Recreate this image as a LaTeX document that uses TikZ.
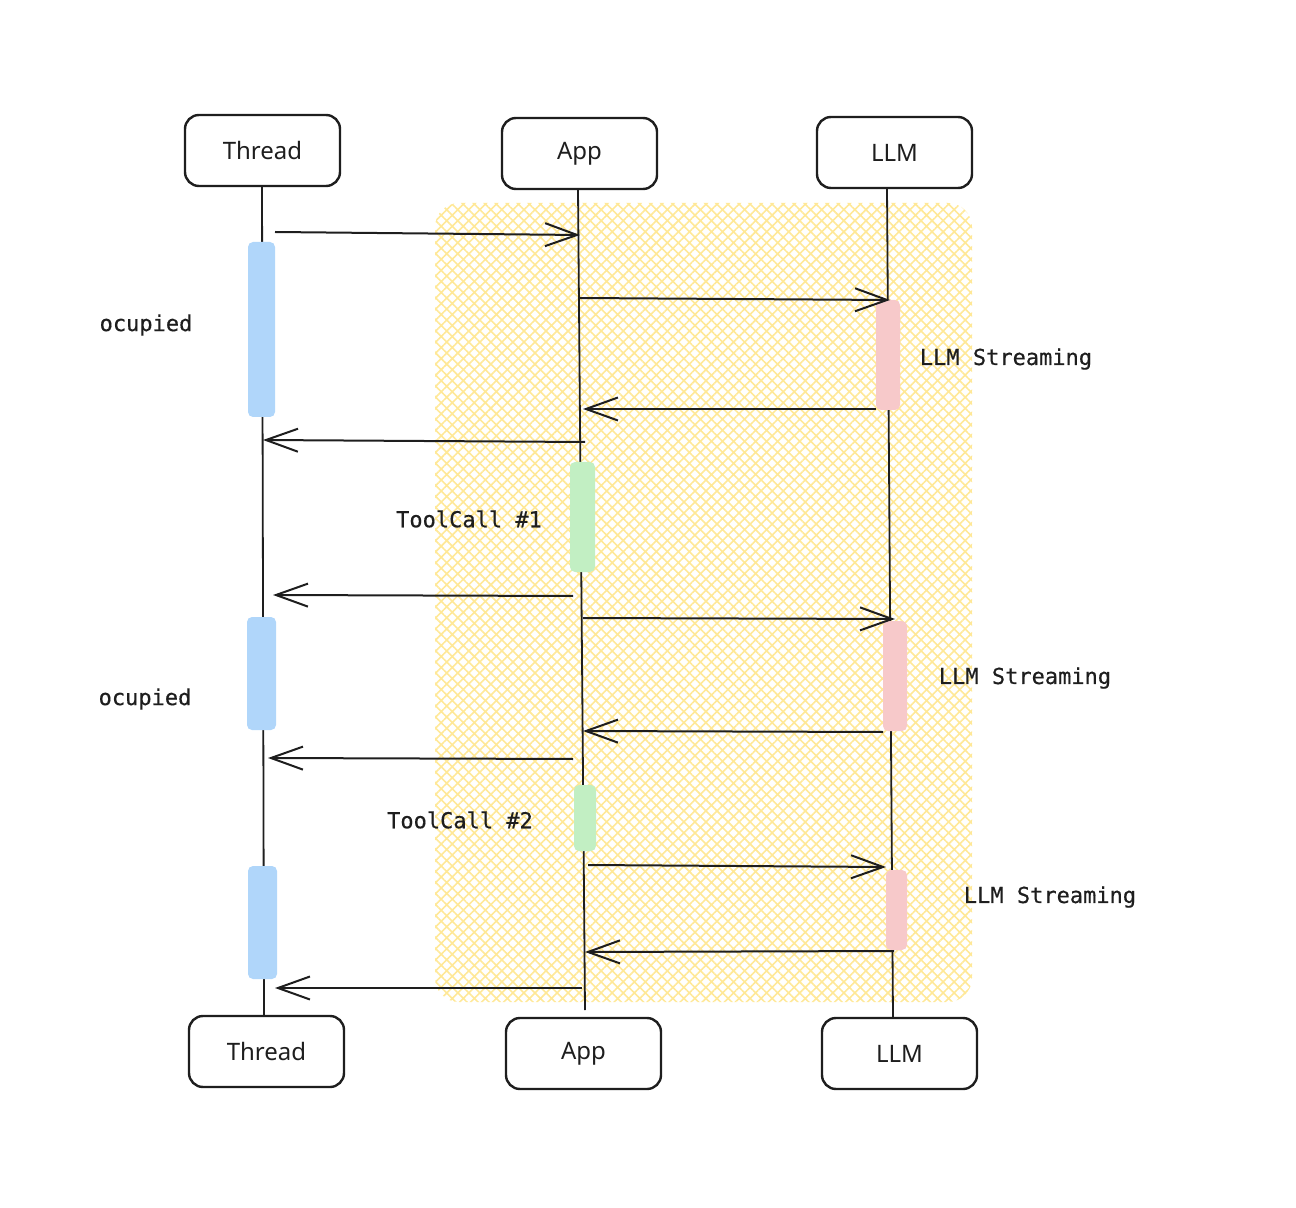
\documentclass[tikz,border=0pt]{standalone}
\usepackage{fontspec}
\newfontfamily\lblfont[FakeBold=0.4]{DejaVu Sans Mono}
\newfontfamily\boxfont{Noto Sans}
\usetikzlibrary{arrows.meta,patterns.meta}
\definecolor{hatchyellow}{HTML}{FFE897}
\definecolor{barblue}{HTML}{B0D6FA}
\definecolor{barpink}{HTML}{F7C9CA}
\definecolor{bargreen}{HTML}{C2EFC3}
\definecolor{ink}{HTML}{1E1E1E}
\tikzset{
  actor/.style={draw=ink, line width=1.2pt, rounded corners=7pt, minimum width=77.5pt, minimum height=35.5pt, inner sep=0pt, fill=white, text=ink, font=\boxfont\fontsize{12}{14}\selectfont},
  lifeline/.style={draw=ink, line width=0.9pt},
  bar/.style={rounded corners=2.5pt, inner sep=0pt, draw=none},
  msg/.style={draw=ink, line width=1pt, -{Straight Barb[length=16pt,width=11.5pt,line width=1pt]}},
  lbl/.style={text=ink, font=\lblfont\fontsize{11}{13}\selectfont, inner sep=0pt}
}
\begin{document}
\begin{tikzpicture}[x=0.5pt,y=-0.5pt]
\useasboundingbox (0,0) rectangle (1296,1208);
% hatched area
\fill[pattern={Hatch[angle=45,distance=3.9pt,line width=0.8pt]}, pattern color=hatchyellow, rounded corners=12pt] (435,203) rectangle (972,1002);

% actors
\node[actor] (tT) at (262.5,150.5) {Thread};
\node[actor] (aT) at (579.5,153.5) {App};
\node[actor] (lT) at (894.5,152.5) {LLM};
\node[actor] (tB) at (266.5,1051.5) {Thread};
\node[actor] (aB) at (583.5,1053.5) {App};
\node[actor] (lB) at (899.5,1053.5) {LLM};

% lifelines
\coordinate (tTs) at (262,186);
\coordinate (tBn) at (264,1016);
\coordinate (aTs) at (578,189);
\coordinate (aBn) at (585,1010);
\coordinate (lTs) at (887,188);
\coordinate (lBn) at (893,1018);
\draw[lifeline] (tTs) -- (tBn);
\draw[lifeline] (aTs) -- (aBn);
\draw[lifeline] (lTs) -- (lBn);

% activation bars
\node[bar, fill=barblue, minimum width=13.5pt, minimum height=87.5pt] (tb1) at (261.5,329.5) {};
\node[bar, fill=barblue, minimum width=14.5pt, minimum height=56.5pt] (tb2) at (261.5,673.5) {};
\node[bar, fill=barblue, minimum width=14.5pt, minimum height=56.5pt] (tb3) at (262.5,922.5) {};
\node[bar, fill=barpink, minimum width=12pt, minimum height=55pt] (lb1) at (888,355) {};
\node[bar, fill=barpink, minimum width=12pt, minimum height=55pt] (lb2) at (895,676) {};
\node[bar, fill=barpink, minimum width=10.5pt, minimum height=40pt] (lb3) at (896.5,910) {};
\node[bar, fill=bargreen, minimum width=12.5pt, minimum height=55pt] (ab1) at (582.5,517) {};
\node[bar, fill=bargreen, minimum width=11pt, minimum height=33pt] (ab2) at (585,818) {};

% message end points
\coordinate (m1s) at (275,232);  \coordinate (m1e) at (580,235);
\coordinate (m2s) at (580,298);  \coordinate (m2e) at (890,300);
\coordinate (m3s) at (876,409);  \coordinate (m3e) at (583,409);
\coordinate (m4s) at (585,442);  \coordinate (m4e) at (263,440);
\coordinate (m5s) at (573,596);  \coordinate (m5e) at (273,595);
\coordinate (m6s) at (583,618);  \coordinate (m6e) at (895,619);
\coordinate (m7s) at (883,732);  \coordinate (m7e) at (583,731);
\coordinate (m8s) at (573,759);  \coordinate (m8e) at (268,758);
\coordinate (m9s) at (588,865);  \coordinate (m9e) at (886,867);
\coordinate (m10s) at (894,951); \coordinate (m10e) at (585,952);
\coordinate (m11s) at (582,988); \coordinate (m11e) at (275,988);
\foreach \i in {1,...,11} \draw[msg] (m\i s) -- (m\i e);

% labels
\node[lbl] (o1) at (146,325) {ocupied};
\node[lbl] (o2) at (145,699) {ocupied};
\node[lbl] (s1) at (1006,359) {LLM Streaming};
\node[lbl] (s2) at (1025,678) {LLM Streaming};
\node[lbl] (s3) at (1050,897) {LLM Streaming};
\node[lbl] (c1) at (469,519) {ToolCall \#1};
\node[lbl] (c2) at (460,820) {ToolCall \#2};
\end{tikzpicture}
\end{document}
